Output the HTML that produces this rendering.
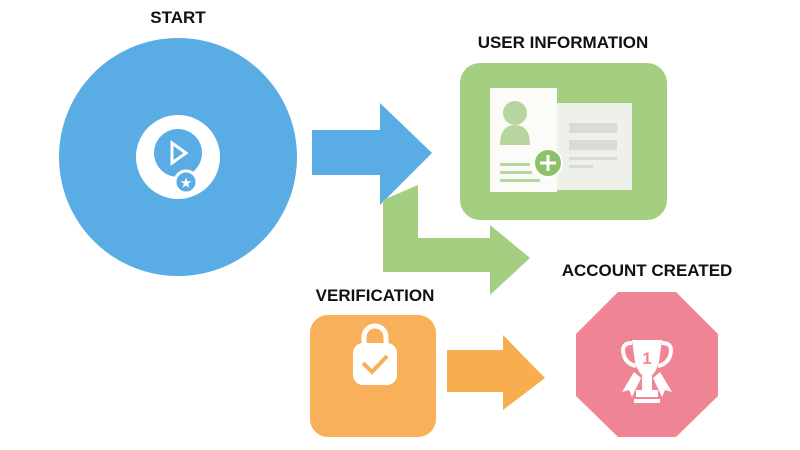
<!DOCTYPE html>
<html><head><style>
body{margin:0;width:800px;height:445px;background:#fff;overflow:hidden}
text{font-family:"Liberation Sans",sans-serif;font-weight:bold;fill:#111}
</style></head><body>
<svg width="800" height="445" viewBox="0 0 800 445">
<text x="178" y="23" font-size="17" text-anchor="middle">START</text>
<text x="563" y="48" font-size="17" text-anchor="middle">USER INFORMATION</text>
<text x="647" y="276" font-size="17" text-anchor="middle">ACCOUNT CREATED</text>
<text x="375" y="301" font-size="17" text-anchor="middle">VERIFICATION</text>
<circle cx="178" cy="157" r="119" fill="#5aade4"/>
<circle cx="178" cy="157" r="42" fill="#fff"/>
<circle cx="178" cy="153" r="24" fill="#5aade4"/>
<path d="M172 143 L186 153 L172 163 Z" fill="none" stroke="#fff" stroke-width="3"/>
<circle cx="186" cy="182" r="11" fill="#5aade4" stroke="#fff" stroke-width="3"/>
<text x="186" y="187" font-size="12" text-anchor="middle" style="fill:#fff">★</text>
<path d="M312 130 H380 V103 L432 153 L380 205 V175 H312 Z" fill="#5aade4"/>
<path d="M383 200 L418 185 V238 H490 V225 L530 258 L490 295 V272 H383 Z" fill="#a5cf80"/>
<rect x="460" y="63" width="207" height="157" rx="20" fill="#a5cf80"/>
<rect x="557" y="103" width="75" height="87" fill="#eef0ea"/>
<rect x="569" y="123" width="48" height="10" fill="#d8dcd4"/>
<rect x="569" y="140" width="48" height="10" fill="#d8dcd4"/>
<rect x="569" y="157" width="48" height="3" fill="#d8dcd4"/>
<rect x="569" y="165" width="24" height="3" fill="#d8dcd4"/>
<rect x="490" y="88" width="67" height="104" fill="#fbfbf8"/>
<circle cx="515" cy="113" r="12" fill="#b7d69d"/>
<path d="M500 145 Q500 125 515 125 Q530 125 530 145 Z" fill="#b7d69d"/>
<rect x="500" y="163" width="30" height="3" fill="#b7d69d"/>
<rect x="500" y="171" width="32" height="3" fill="#b7d69d"/>
<rect x="500" y="179" width="40" height="3" fill="#b7d69d"/>
<circle cx="548" cy="163" r="14" fill="#8cc16a" stroke="#fff" stroke-width="2"/>
<path d="M548 155 V171 M540 163 H556" stroke="#fff" stroke-width="3"/>
<rect x="310" y="315" width="126" height="122" rx="18" fill="#f8b05a"/>
<path d="M364 345 V337 A11 11 0 0 1 386 337 V345" fill="none" stroke="#fff" stroke-width="5"/>
<rect x="353" y="343" width="44" height="42" rx="10" fill="#fff"/>
<path d="M363 363 L372 372 L387 356" fill="none" stroke="#f8b05a" stroke-width="4"/>
<path d="M447 350 H503 V335 L545 378 L503 410 V392 H447 Z" fill="#f8ad4e"/>
<polygon points="618,292 676,292 718,334 718,396 676,437 618,437 576,396 576,334" fill="#ef8594"/>
<path d="M632 343 Q620 343 624 356 Q627 364 636 366" fill="none" stroke="#fff" stroke-width="4"/>
<path d="M662 343 Q674 343 670 356 Q667 364 658 366" fill="none" stroke="#fff" stroke-width="4"/>
<path d="M632 340 H662 L659 362 Q655 376 647 378 Q639 376 635 362 Z" fill="#fff"/>
<text x="647" y="364" font-size="17" text-anchor="middle" style="fill:#ef8594">1</text>
<rect x="642" y="376" width="10" height="14" fill="#fff"/>
<rect x="636" y="390" width="22" height="7" fill="#fff"/>
<rect x="634" y="399" width="26" height="4" fill="#fff"/>
<path d="M634 372 L622 392 L629 390 L632 397 L641 378 Z M660 372 L672 392 L665 390 L662 397 L653 378 Z" fill="#fff"/>
</svg>
</body></html>
